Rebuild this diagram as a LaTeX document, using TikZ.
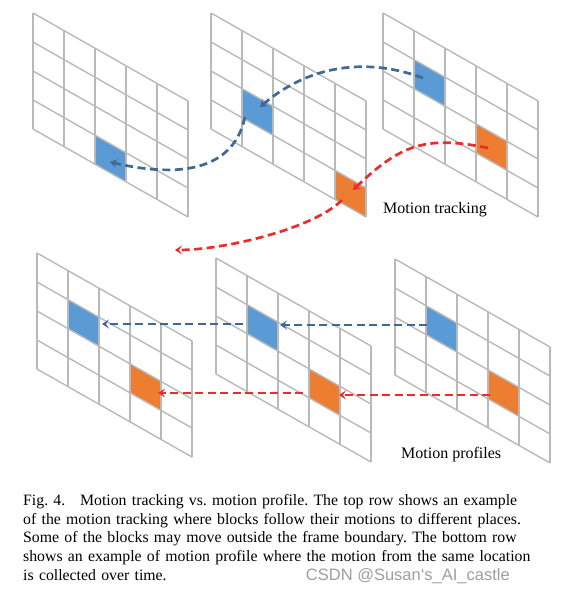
\documentclass[tikz,border=0pt]{standalone}
\usepackage{fontspec}
\setmainfont{Liberation Serif}
\newfontfamily\wmfont{Liberation Sans}
\usetikzlibrary{arrows.meta}
\frenchspacing
\definecolor{gridgray}{HTML}{B9B9B9}
\definecolor{blockblue}{HTML}{5B9BD5}
\definecolor{blockorange}{HTML}{ED7D31}
\definecolor{pathblue}{HTML}{3F6894}
\definecolor{pathred}{HTML}{EE2B2B}
\tikzset{
  framepos/.style 2 args={shift={(#1pt,-#2pt)}, x={(31pt,-17.6pt)}, y={(0pt,-29pt)}},
  gridline/.style={draw=gridgray, line width=1.4pt},
  motion/.style={line width=2.7pt, dash pattern=on 8pt off 4.5pt,
    -{Stealth[length=7pt,width=9pt,inset=3pt]}},
  bluepath/.style={motion, draw=pathblue},
  redpath/.style={motion, draw=pathred},
  label/.style={font=\fontsize{16}{19}\selectfont, inner sep=0pt}
}
\begin{document}
\begin{tikzpicture}[x=1pt, y=-1pt]
\fill[white] (0,0) rectangle (574,594);
\useasboundingbox (0,0) rectangle (574,594);
\foreach \fx/\fy/\i/\j/\c in {33/13/2/3/blockblue, 211/13/1/2/blockblue, 211/13/4/3/blockorange,
  383/13/1/1/blockblue, 383/13/3/2/blockorange, 37/253/1/1/blockblue, 37/253/3/2/blockorange,
  216/258/1/1/blockblue, 216/258/3/2/blockorange, 395/259/1/1/blockblue, 395/259/3/2/blockorange}
  \fill[\c, framepos={\fx}{\fy}] (\i,\j) -- (\i+1,\j) -- (\i+1,\j+1) -- (\i,\j+1) -- cycle;
\foreach \fx/\fy in {33/13, 211/13, 383/13, 37/253, 216/258, 395/259} {
  \begin{scope}[framepos={\fx}{\fy}]
  \foreach \i in {0,...,5} \draw[gridline] (\i,0) -- (\i,4);
  \foreach \j in {0,...,4} \draw[gridline] (0,\j) -- (5,\j);
  \end{scope}
}
\coordinate (tb1) at (423,78);
\coordinate (tb2) at (260,107);
\coordinate (tb3) at (245,117);
\coordinate (tb4) at (110,162);
\coordinate (tr1) at (488,148);
\coordinate (tr2) at (353,190);
\coordinate (tr3) at (342,200);
\coordinate (tr4) at (175,250);
\coordinate (pb1) at (427,325);
\coordinate (pb2) at (280,325);
\coordinate (pb3) at (243,324);
\coordinate (pb4) at (102,324);
\coordinate (pr1) at (490,395);
\coordinate (pr2) at (339,395);
\coordinate (pr3) at (303,393);
\coordinate (pr4) at (158,393);
\draw[bluepath] (tb1) .. controls +(-48,-18) and +(55,-47) .. (tb2);
\draw[bluepath] (tb3) .. controls +(-13,61) and +(55,13) .. (tb4);
\draw[redpath] (tr1) .. controls +(-63,-13) and +(47,-45) .. (tr2);
\draw[redpath] (tr3) .. controls +(-27,28) and +(50,0) .. (tr4);
\draw[bluepath] (pb1) -- (pb2);
\draw[bluepath] (pb3) -- (pb4);
\draw[redpath] (pr1) -- (pr2);
\draw[redpath] (pr3) -- (pr4);
\node[label, anchor=base west] (tracking) at (383,213) {Motion tracking};
\node[label, anchor=base west] (profiles) at (401,458) {Motion profiles};
\node[anchor=north west, inner sep=0pt, text width=487pt,
  font=\fontsize{15.8}{18.75}\selectfont] (caption) at (23,494) {%
\makebox[487pt][s]{Fig. 4.\hspace{0.6em} Motion tracking vs. motion profile. The top row shows an example}\\
\makebox[487pt][s]{of the motion tracking where blocks follow their motions to different places.}\\
\makebox[487pt][s]{Some of the blocks may move outside the frame boundary. The bottom row}\\
\makebox[487pt][s]{shows an example of motion profile where the motion from the same location}\\
is collected over time.};
\node[anchor=base east, inner sep=0pt, text=gray!75,
  font=\wmfont\fontsize{16.5}{19}\selectfont] (mark) at (510,580) {CSDN @Susan‘s\_AI\_castle};
\end{tikzpicture}
\end{document}
